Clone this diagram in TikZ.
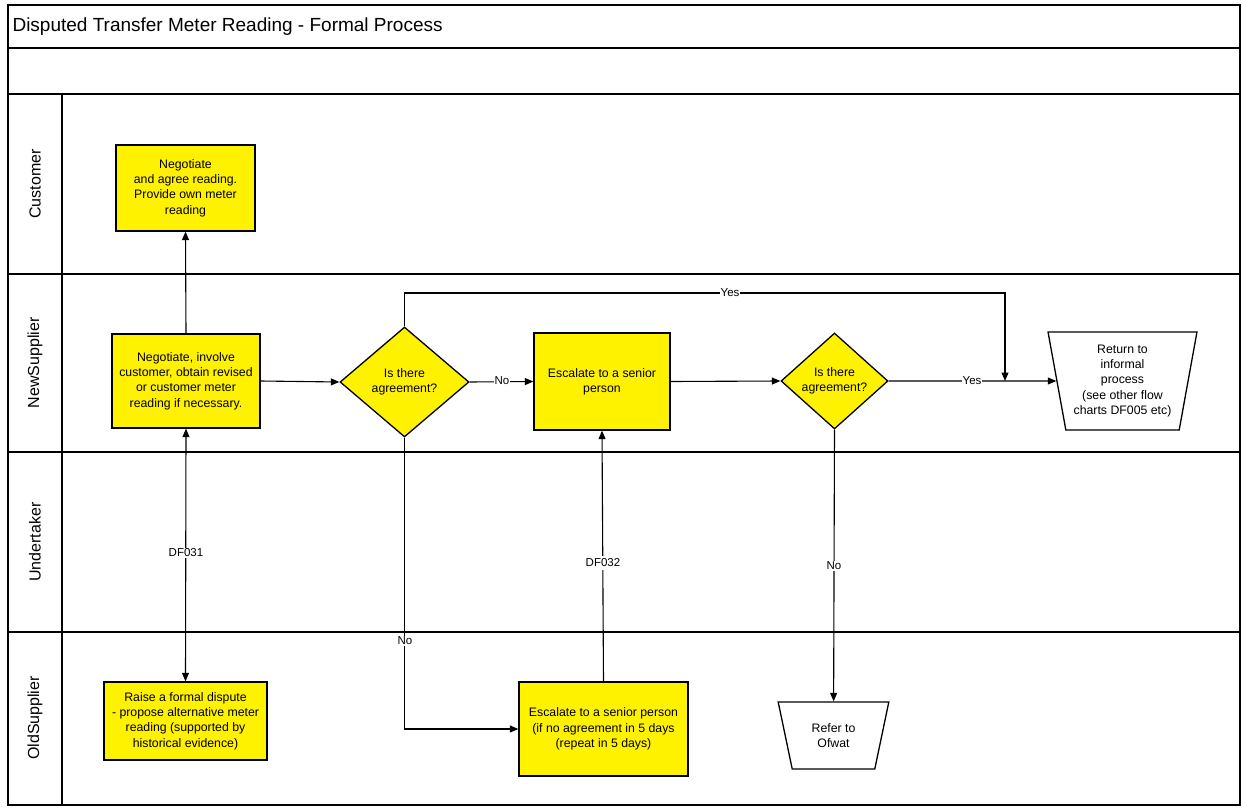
\documentclass[tikz,border=0pt]{standalone}
\usepackage{fontspec}
\setmainfont{Liberation Sans}
\usetikzlibrary{shapes.geometric,arrows.meta}
\begin{document}
\begin{tikzpicture}[x=1pt,y=-1pt,
  frame/.style={line width=1.6pt},
  txt/.style={align=center, font=\fontsize{12.3}{15.3}\selectfont},
  proc/.style={draw, line width=1.3pt, fill=yellow, txt, inner sep=2pt},
  dec/.style={draw, diamond, line width=1.3pt, fill=yellow, txt, inner sep=0pt},
  term/.style={draw, trapezium, shape border rotate=180, trapezium stretches=true, line width=1.3pt, fill=white, txt, inner sep=0pt},
  tip/.style={Triangle[length=8.5pt,width=7pt]},
  conn/.style={line width=1.1pt, -{Triangle[length=8.5pt,width=7pt]}},
  lbl/.style={fill=white, inner sep=1pt, font=\fontsize{11.5}{13}\selectfont},
  lane/.style={rotate=90, font=\fontsize{16}{18}\selectfont}
]
\useasboundingbox (0,0) rectangle (1242,808);
% frame
\draw[frame] (8,5) rectangle (1240,805);
\draw[frame] (8,48) -- (1240,48);
\draw[frame] (8,94) -- (1240,94);
\draw[frame] (8,274) -- (1240,274);
\draw[frame] (8,452) -- (1240,452);
\draw[frame] (8,632) -- (1240,632);
\draw[frame] (62,94) -- (62,805);
\node[anchor=west, font=\fontsize{19}{22}\selectfont] (title) at (9,27) {Disputed Transfer Meter Reading - Formal Process};
\node[lane] (lc) at (35,184) {Customer};
\node[lane] (ln) at (35,363) {NewSupplier};
\node[lane] (lu) at (35,542) {Undertaker};
\node[lane] (lo) at (35,718) {OldSupplier};
% nodes
\node[proc, minimum width=139pt, minimum height=86pt] (c1) at (185.5,188) {Negotiate\\and agree reading.\\Provide own meter\\reading};
\node[proc, minimum width=148pt, minimum height=94pt] (b1) at (186,381) {Negotiate, involve\\customer, obtain revised\\or customer meter\\reading if necessary.};
\node[dec, minimum width=129pt, minimum height=110pt] (d1) at (404.5,382) {Is there\\agreement?};
\node[proc, minimum width=136pt, minimum height=97pt] (e1) at (602,381.5) {Escalate to a senior\\person};
\node[dec, minimum width=107pt, minimum height=96pt] (d2) at (834.5,381) {Is there\\agreement?};
\node[term, minimum width=149pt, minimum height=98pt, trapezium angle=78] (ret) at (1122.5,381) {Return to\\informal\\process\\(see other flow\\charts DF005 etc)};
\node[proc, minimum width=163pt, minimum height=78pt] (o1) at (185.5,721) {Raise a formal dispute\\- propose alternative meter\\reading (supported by\\historical evidence)};
\node[proc, minimum width=169pt, minimum height=94pt] (e2) at (603.5,729) {Escalate to a senior person\\(if no agreement in 5 days\\(repeat in 5 days)};
\node[term, minimum width=111pt, minimum height=67pt, trapezium angle=73] (ref) at (833.5,735.5) {Refer to\\Ofwat};
\coordinate (ytop) at (1005,293);
\coordinate (yjoin) at (1005,381);
% connectors
\draw[conn] (b1.north) -- (c1.south);
\draw[conn] (b1.east) -- (d1.west);
\draw[conn] (d1.east) -- (e1.west);
\node[lbl] (no1) at (502,381) {No};
\draw[conn] (e1.east) -- (d2.west);
\draw[conn] (d2.east) -- (ret);
\node[lbl] (yes2) at (972,381) {Yes};
\draw[conn] (d1.north) |- (ytop) -- (yjoin);
\node[lbl] (yes1) at (730,293) {Yes};
\draw[line width=1.1pt, {Triangle[length=8.5pt,width=7pt]}-{Triangle[length=8.5pt,width=7pt]}] (b1.south) -- (o1.north);
\node[lbl] (df31) at (186,553) {DF031};
\draw[conn] (d1.south) |- (e2.west);
\node[lbl] (no2) at (405,641) {No};
\draw[conn] (e2.north) -- (e1.south);
\node[lbl, inner sep=3pt] (df32) at (603,563) {DF032};
\draw[conn] (d2.south) -- (ref);
\node[lbl] (no3) at (834,566) {No};
\end{tikzpicture}
\end{document}
